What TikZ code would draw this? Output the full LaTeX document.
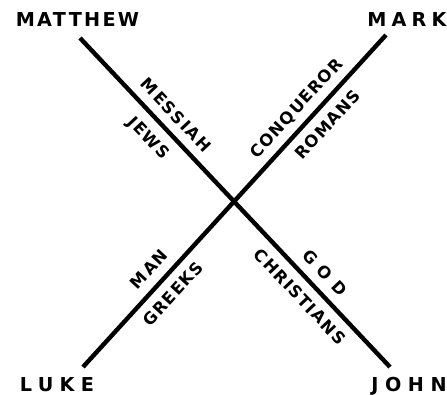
\documentclass[tikz,border=0pt]{standalone}
\usepackage{fontspec}
\setmainfont{DejaVu Sans}
\usepackage{tikz}

\tikzset{
    gospel/.style={font=\bfseries\fontsize{19.2}{19.2}\selectfont, inner sep=0pt, text height=14pt, text depth=0pt},
    theme/.style={sloped, font=\bfseries\fontsize{16.5}{16.5}\selectfont, inner sep=0pt, text height=12pt, text depth=0pt},
    bar/.style={line width=4.4pt},
}
\newcommand{\spaced}[2]{{\addfontfeature{LetterSpace=#1}#2}}

\begin{document}
\begin{tikzpicture}[x=1pt,y=-1pt]
        \useasboundingbox (0,0) rectangle (447,395);
        % ends of the cross
            \coordinate (mt) at (80,38);
            \coordinate (jn) at (390,367);
            \coordinate (mk) at (386,35);
            \coordinate (lk) at (83,367);
        % lines
            \draw [bar] (mt) -- (jn)
                node[theme, pos=0.27, above=9pt] (messiah) {\spaced{11}{MESSIAH}}
                node[theme, pos=0.265, below=10pt] (jews) {\spaced{8}{JEWS}}
                node[theme, pos=0.75, above=9pt] (god) {\spaced{47}{GOD}}
                node[theme, pos=0.75, below=9pt] (christians) {\spaced{8}{CHRISTIANS}};
            \draw [bar] (lk) -- (mk)
                node[theme, pos=0.26, above=9pt] (man) {\spaced{10}{MAN}}
                node[theme, pos=0.255, below=9pt] (greeks) {\spaced{8}{GREEKS}}
                node[theme, pos=0.745, above=9pt] (conqueror) {\spaced{8}{CONQUEROR}}
                node[theme, pos=0.765, below=9pt] (romans) {\spaced{6}{ROMANS}};
        %nodes
            \node[gospel] (matthew) at (77.5,20) {\spaced{12}{MATTHEW}};
            \node[gospel] (mark) at (407,20) {\spaced{27}{MARK}};
            \node[gospel] (luke) at (57,384.5) {\spaced{33}{LUKE}};
            \node[gospel] (john) at (409,384.5) {\spaced{34}{JOHN}};
\end{tikzpicture}
\end{document}
